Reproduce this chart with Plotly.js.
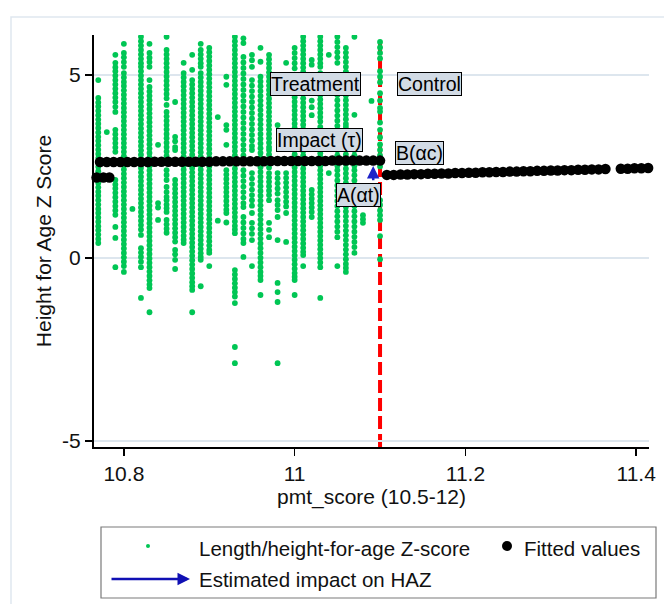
<!DOCTYPE html>
<html>
<head>
<meta charset="utf-8">
<script src="https://cdn.plot.ly/plotly-3.0.1.min.js"></script>
<style>html,body{margin:0;padding:0;background:#fff;}#chart{width:664px;height:604px;}</style>
</head>
<body>
<div id="chart"></div>
<script>
// pmt_score value of each column of observations
const colX = [10.77,10.78,10.79,10.80,10.81,10.82,10.83,10.84,10.85,10.86,10.87,10.88,10.89,10.90,10.91,10.92,10.93,10.94,10.95,10.96,10.97,10.98,10.99,11.00,11.01,11.02,11.03,11.04,11.05,11.06,11.07,11.08,11.09,11.10];
// Length/height-for-age Z-scores observed in each column
const colY = [
 [4.86,4.37,4.25,4.14,4.02,3.9,3.78,3.67,3.55,3.43,3.31,3.2,3.08,2.96,2.84,2.73,2.61,2.49,2.37,2.26,2.14,2.05,1.93,1.81,1.7,1.58,1.46,1.34,1.23,1.11,0.99,0.87,0.76,0.64,0.52,0.41],
 [3.44],
 [5.55,5.33,5.21,5.1,4.98,4.86,4.74,4.62,4.5,4.38,4.26,4.13,3.99,3.5,3.38,3.26,3.14,3.02,2.9,2.13,2.01,1.9,1.78,1.66,1.54,1.42,1.3,1.18,0.85,0.55,-0.25],
 [5.85,5.6,5.48,5.35,5.22,5.05,4.93,4.81,4.7,4.58,4.46,4.34,4.22,4.1,3.98,3.86,3.74,3.62,3.5,3.38,3.26,3.14,3.02,2.9,2.78,2.66,2.54,2.42,2.3,2.18,2.06,1.94,1.82,1.7,1.58,1.46,1.34,1.22,1.1,0.98,0.86,0.74,0.62,0.5,0.38,0.26,0.14,0.02,-0.1,-0.22,-0.38],
 [1.34],
 [6.04,5.92,5.8,5.68,5.56,5.44,5.32,5.22,5.1,4.98,4.86,4.74,4.62,4.5,4.38,4.26,4.14,4.02,3.9,3.78,3.66,3.54,3.42,3.3,3.18,3.06,2.94,2.82,2.7,2.58,2.46,2.34,2.22,2.1,1.98,1.86,1.74,1.62,1.5,1.38,1.26,1.14,1.02,0.9,0.78,0.63,0.27,0.15,0.03,-0.1,-0.25,-1.09],
 [5.85,5.6,5.47,5.35,5.22,4.86,4.67,4.55,4.43,4.31,4.19,4.07,3.95,3.83,3.71,3.59,3.47,3.35,3.23,3.11,2.99,2.87,2.75,2.63,2.51,2.39,2.27,2.15,2.03,1.91,1.79,1.67,1.55,1.43,1.31,1.19,1.07,0.95,0.83,0.71,0.59,0.47,0.35,0.23,0.11,-0.01,-0.13,-0.25,-0.37,-0.49,-0.61,-0.72,-0.82,-1.48],
 [3.09,1.5,1.38,1.04],
 [6.04,5.68,5.56,5.44,5.32,5.2,5.08,4.96,4.84,4.72,4.6,4.48,4.36,4.18,3.99,3.87,3.75,3.63,3.51,3.39,3.27,3.15,3.03,2.91,2.79,2.4,2.27,2.13,1.94,1.8,1.67,1.58,1.46,1.36,1.26,1.04,0.92,0.8,0.69],
 [4.26,3.31,3.19,3.03,2.95,2.13,2.01,1.89,1.77,1.65,1.53,1.41,1.29,1.17,1.05,0.93,0.81,0.69,0.57,0.45,0.22,0.1,-0.05,-0.3],
 [5.33,5.05,4.93,4.81,4.69,4.57,4.45,4.33,4.21,4.09,3.97,3.85,3.73,3.61,3.49,3.37,3.25,3.13,3.01,2.89,2.77,2.65,2.53,2.41,2.29,2.17,2.05,1.93,1.81,1.69,1.57,1.45,1.33,1.21,1.09,0.97,0.85,0.73,0.61,0.5,0.41],
 [5.55,5.14,4.86,4.74,4.62,4.5,4.38,4.26,4.14,4.02,3.9,3.78,3.66,3.54,3.42,3.3,3.18,3.06,2.94,2.82,2.7,2.58,2.46,2.34,2.22,2.1,1.98,1.86,1.74,1.62,1.5,1.38,1.26,1.14,1.02,0.9,0.78,0.66,0.54,0.42,0.3,0.18,0.06,-0.06,-0.18,-0.3,-0.42,-0.54,-0.66,-0.77,-0.87,-1.48],
 [5.85,5.68,5.56,5.44,5.32,5.22,5.05,4.93,4.81,4.69,4.57,4.45,4.33,4.21,4.09,3.97,3.85,3.73,3.61,3.49,3.37,3.25,3.13,3.01,2.89,2.77,2.65,2.53,2.41,2.29,2.17,2.05,1.93,1.81,1.69,1.57,1.45,1.33,1.21,1.09,0.97,0.85,0.73,0.61,0.49,0.37,0.25,0.13,0.03,-0.05,-0.77],
 [5.74,5.62,5.5,5.38,5.26,5.14,5.02,4.9,4.78,4.66,4.54,4.42,4.3,4.18,4.06,3.94,3.82,3.7,3.58,3.46,3.34,3.22,3.1,2.98,2.86,2.74,2.62,2.5,2.38,2.26,2.14,2.02,1.9,1.78,1.66,1.54,1.42,1.3,1.18,1.06,0.94,0.82,0.7,0.58,0.46,0.34,0.22,0.14,-0.22],
 [3.85,1.02],
 [4.95,4.73,3.63,3.5,3.09,2.4,2.28,2.16,2.04,1.92,1.8,1.68,1.56,1.44,1.32,1.23,0.97],
 [6.04,5.92,5.8,5.68,5.56,5.44,5.32,5.2,5.08,4.96,4.84,4.72,4.6,4.48,4.36,4.24,4.12,4.0,3.88,3.76,3.64,3.52,3.4,3.28,3.16,3.04,2.92,2.8,2.68,2.56,2.44,2.32,2.2,2.08,1.96,1.84,1.72,1.6,1.48,1.36,1.24,1.12,1.0,0.88,0.78,0.68,-0.33,-0.45,-0.57,-0.69,-0.81,-0.93,-1.05,-1.23,-2.43,-2.87],
 [6.0,5.87,5.49,5.34,5.19,5.04,4.89,4.74,4.59,4.44,4.29,4.14,3.99,3.84,3.69,3.54,3.39,3.24,3.09,2.95,2.8,2.4,2.25,2.1,1.95,1.8,1.65,1.5,1.39,1.12,0.97,0.82,0.67,0.52,0.41,0.03],
 [5.55,5.4,5.22,4.86,4.71,4.56,4.41,4.26,4.11,3.96,3.81,3.66,3.51,3.36,3.21,3.06,2.95,2.32,2.17,2.02,1.87,1.72,1.58,1.43,1.23,0.96,0.81,0.66,0.49,-0.22],
 [5.74,5.36,4.95,4.82,4.69,4.56,4.43,4.3,4.17,4.04,3.91,3.78,3.65,3.52,3.39,3.26,3.13,3.0,2.87,2.74,2.61,2.48,2.35,2.22,2.09,1.96,1.83,1.7,1.57,1.44,1.31,1.18,1.05,0.92,0.79,0.66,0.53,0.4,0.27,0.14,0.01,-0.12,-0.25,-0.38,-0.49,-0.6,-1.01],
 [5.55,5.43,5.31,5.19,5.07,4.95,4.83,4.71,4.59,4.47,4.35,4.23,4.11,3.99,3.87,3.75,3.63,3.51,3.39,3.27,3.15,3.03,2.95,2.83,2.71,2.59,2.47,2.32,2.2,2.08,1.96,1.84,1.72,1.58,0.96,0.77,0.57],
 [3.63,2.32,2.18,2.04,1.9,1.76,1.58,1.45,1.31,1.12,0.49,-0.68,-0.93,-1.2,-2.87],
 [5.33,3.03,2.32,2.19,2.06,1.93,1.8,1.67,1.54,1.41,1.23,0.44],
 [5.74,5.6,5.46,5.32,5.18,5.0,4.51,4.39,4.27,4.15,4.03,3.91,3.79,3.67,3.55,3.43,3.31,3.19,3.07,2.95,2.83,2.71,2.59,2.47,2.35,2.23,2.11,1.99,1.87,1.75,1.63,1.51,1.39,1.27,1.15,1.03,0.91,0.79,0.67,0.55,0.43,0.31,0.19,0.07,-0.05,-0.17,-0.29,-0.41,-0.51,-0.6,-1.01],
 [6.04,5.92,5.8,5.68,5.56,5.44,5.32,5.2,5.08,4.96,4.84,4.72,4.6,4.48,4.36,4.24,4.12,4.0,3.88,3.76,3.64,3.52,3.4,3.28,3.16,3.04,2.92,2.8,2.68,2.56,2.44,2.32,2.2,2.08,1.96,1.84,1.72,1.6,1.48,1.36,1.24,1.12,1.0,0.88,0.76,0.64,0.52,0.4,0.28,0.17,0.08,-0.22],
 [5.41,5.28,4.3,4.12,3.9,1.86,1.74,1.62,1.5,1.38,1.26,1.12],
 [6.04,5.92,5.8,5.68,5.56,5.44,5.32,5.22,5.05,4.93,4.81,4.69,4.57,4.45,4.33,4.21,4.09,3.97,3.85,3.73,3.58,3.22,3.1,2.98,2.86,2.76,2.64,2.52,2.4,2.28,2.16,2.04,1.92,1.8,1.68,1.56,1.44,1.32,1.2,1.08,0.96,0.84,0.72,0.6,0.48,0.36,0.24,0.12,0.0,-0.12,-0.25,-1.09],
 [5.55,4.6,2.32],
 [6.04,5.9,5.76,5.62,5.48,5.33,4.59,4.45,4.31,4.17,4.03,3.89,3.75,3.61,3.5,3.22,3.08,2.94,2.8,2.66,2.52,2.4,2.26,2.12,1.98,1.84,1.7,1.56,1.42,1.28,1.14,1.0,0.86,0.72,0.57,-0.22],
 [5.74,5.61,5.48,5.35,5.22,5.09,4.96,4.83,4.7,4.57,4.44,4.31,4.18,4.05,3.92,3.79,3.66,3.58,3.22,3.09,2.96,2.83,2.7,2.57,2.44,2.31,2.18,2.05,1.92,1.79,1.66,1.53,1.4,1.27,1.14,1.01,0.88,0.75,0.62,0.49,0.36,0.23,0.1,-0.03,-0.16,-0.27,-0.38],
 [6.04,3.91,3.22,3.08,2.94,2.8,2.66,2.52,2.4,2.26,2.12,1.98,1.84,1.7,1.56,1.42,1.28,1.14,1.0,0.86,0.72,0.58,0.44,0.3,0.14],
 [1.17,1.06,0.96],
 [4.29],
 [5.9,5.75,5.6,5.45,5.1,4.95,4.8,4.5,4.3,4.1,4.0,3.7,3.5,3.3,3.1,2.95,2.8,2.65,2.5,1.58,1.45,1.3,1.17,1.04,0.6,-0.03]
];
// Fitted values, treatment side (below cutoff)
const fitTX = [10.772,10.780,10.788,10.796,10.804,10.812,10.820,10.828,10.836,10.844,10.852,10.860,10.868,10.876,10.884,10.892,10.900,10.908,10.916,10.924,10.932,10.940,10.948,10.956,10.964,10.972,10.980,10.988,10.996,11.004,11.012,11.020,11.028,11.036,11.044,11.052,11.060,11.068,11.076,11.084,11.092,11.100];
const fitTY = [2.62,2.62,2.62,2.62,2.62,2.62,2.62,2.62,2.63,2.63,2.63,2.63,2.63,2.63,2.63,2.63,2.63,2.64,2.64,2.64,2.64,2.64,2.64,2.64,2.64,2.65,2.65,2.65,2.65,2.65,2.65,2.65,2.65,2.65,2.66,2.66,2.66,2.66,2.66,2.66,2.66,2.66];
// Fitted values at the very left edge
const fitEX = [10.768,10.776,10.783];
const fitEY = [2.20,2.20,2.20];
// Fitted values, control side (above cutoff)
const fitCX = [11.108,11.116,11.124,11.132,11.140,11.148,11.156,11.164,11.172,11.180,11.188,11.196,11.204,11.212,11.220,11.228,11.236,11.244,11.252,11.260,11.268,11.276,11.284,11.292,11.300,11.308,11.316,11.324,11.332,11.340,11.348,11.356,11.364,11.382,11.390,11.398,11.406,11.414];
const fitCY = [2.27,2.27,2.28,2.28,2.29,2.29,2.30,2.30,2.31,2.31,2.32,2.32,2.33,2.33,2.34,2.34,2.35,2.35,2.36,2.36,2.37,2.37,2.38,2.38,2.39,2.39,2.40,2.40,2.41,2.41,2.42,2.42,2.43,2.44,2.44,2.45,2.45,2.46];
// Cutoff and impact arrow
const cutoff = 11.1;
const impactX = 11.092;
const impactFrom = 2.08;
const impactTo = 2.51;
// Axis ticks
const xTicks = [10.8, 11, 11.2, 11.4];
const xTickText = ['10.8', '11', '11.2', '11.4'];
const yTicks = [-5, 0, 5];
const yTickText = ['-5', '0', '5'];

const hazX = [], hazY = [];
colX.forEach((x, i) => colY[i].forEach(y => { hazX.push(x); hazY.push(y); }));

const FONT = 'Liberation Sans, Arial, sans-serif';
const traces = [
  {type: 'scatter', mode: 'markers', x: hazX, y: hazY, name: 'Length/height-for-age Z-score',
   marker: {color: 'rgb(0,198,84)', size: 5.8}, showlegend: false, hoverinfo: 'x+y'},
  {type: 'scatter', mode: 'markers', x: fitTX, y: fitTY, name: 'Fitted values',
   marker: {color: '#000', size: 10.5}, showlegend: false, cliponaxis: false},
  {type: 'scatter', mode: 'markers', x: fitEX, y: fitEY, name: 'Fitted values',
   marker: {color: '#000', size: 10.5}, showlegend: false, cliponaxis: false},
  {type: 'scatter', mode: 'markers', x: fitCX, y: fitCY, name: 'Fitted values',
   marker: {color: '#000', size: 10.5}, showlegend: false, cliponaxis: false}
];

function px2paperX(px) { return (px - 94) / 555; }
function px2paperY(py) { return (447 - py) / 412; }

const boxStyle = {bgcolor: '#d2dbe5', bordercolor: '#000', borderwidth: 1, borderpad: 0,
  showarrow: false, font: {family: FONT, size: 19.5, color: '#000'}};

const annotations = [
  Object.assign({x: 11.024, y: 4.74, xref: 'x', yref: 'y', text: 'Treatment'}, boxStyle),
  Object.assign({x: 11.158, y: 4.75, xref: 'x', yref: 'y', text: 'Control'}, boxStyle),
  Object.assign({x: 11.029, y: 3.21, xref: 'x', yref: 'y', text: 'Impact (τ)'}, boxStyle),
  Object.assign({x: 11.146, y: 2.88, xref: 'x', yref: 'y', text: 'B(αc)'}, boxStyle),
  Object.assign({x: 11.075, y: 1.73, xref: 'x', yref: 'y', text: 'A(αt)'}, boxStyle),
  {x: impactX, y: impactTo, ax: impactX, ay: impactFrom, xref: 'x', yref: 'y', axref: 'x', ayref: 'y',
   showarrow: true, arrowhead: 2, arrowsize: 1, arrowwidth: 2.5, arrowcolor: '#1e22c8', text: ''},
  // legend
  {xref: 'paper', yref: 'paper', x: px2paperX(197), y: px2paperY(548), xanchor: 'left', yanchor: 'middle',
   text: 'Length/height-for-age Z-score', showarrow: false, font: {family: FONT, size: 20.5, color: '#111'}},
  {xref: 'paper', yref: 'paper', x: px2paperX(522), y: px2paperY(548), xanchor: 'left', yanchor: 'middle',
   text: 'Fitted values', showarrow: false, font: {family: FONT, size: 20.5, color: '#111'}},
  {xref: 'paper', yref: 'paper', x: px2paperX(197), y: px2paperY(579), xanchor: 'left', yanchor: 'middle',
   text: 'Estimated impact on HAZ', showarrow: false, font: {family: FONT, size: 20.5, color: '#111'}},
  {xref: 'paper', yref: 'paper', x: px2paperX(190), y: px2paperY(579), ax: -80, ay: 0,
   showarrow: true, arrowhead: 2, arrowsize: 1, arrowwidth: 2.5, arrowcolor: '#1010b4', text: ''}
];

const shapes = [
  // outer graph region border
  {type: 'rect', xref: 'paper', yref: 'paper', x0: px2paperX(11), x1: px2paperX(720), y0: px2paperY(720), y1: px2paperY(17),
   line: {color: '#dfe7ef', width: 1.5}, layer: 'below'},
  // cutoff line
  {type: 'line', xref: 'x', yref: 'paper', x0: cutoff, x1: cutoff, y0: 0, y1: 0.985,
   line: {color: '#ff0000', width: 4, dash: '13px,5px'}, layer: 'below'},
  // legend box
  {type: 'rect', xref: 'paper', yref: 'paper', x0: px2paperX(101), x1: px2paperX(656), y0: px2paperY(598), y1: px2paperY(527),
   line: {color: '#7a7a7a', width: 1.2}, fillcolor: 'rgba(0,0,0,0)'},
  // legend markers
  {type: 'circle', xref: 'paper', yref: 'paper', x0: px2paperX(146), x1: px2paperX(150), y0: px2paperY(548), y1: px2paperY(544),
   fillcolor: 'rgb(0,198,84)', line: {width: 0}},
  {type: 'circle', xref: 'paper', yref: 'paper', x0: px2paperX(502), x1: px2paperX(512), y0: px2paperY(551), y1: px2paperY(541),
   fillcolor: '#000', line: {width: 0}}
];

const layout = {
  width: 664, height: 604,
  margin: {l: 94, r: 15, t: 35, b: 157, pad: 0},
  paper_bgcolor: '#fff', plot_bgcolor: '#fff',
  font: {family: FONT, size: 21, color: '#111'},
  showlegend: false,
  xaxis: {
    range: [10.765, 11.415], tickvals: xTicks, ticktext: xTickText,
    showgrid: false, zeroline: false, showline: true, linecolor: '#000', linewidth: 2,
    ticks: 'outside', ticklen: 7, tickwidth: 1.5, tickcolor: '#000', ticklabelstandoff: 0,
    tickfont: {family: FONT, size: 21, color: '#111'},
    title: {text: 'pmt_score (10.5-12)', font: {family: FONT, size: 21, color: '#111'}, standoff: 2}
  },
  yaxis: {
    range: [-5.16, 6.09], tickvals: yTicks, ticktext: yTickText,
    showgrid: true, gridcolor: '#dde6ee', gridwidth: 1.5, zeroline: false,
    showline: true, linecolor: '#000', linewidth: 2,
    ticks: 'outside', ticklen: 7, tickwidth: 1.5, tickcolor: '#000',
    tickfont: {family: FONT, size: 21, color: '#111'},
    title: {text: 'Height for Age Z Score', font: {family: FONT, size: 21, color: '#111'}, standoff: 5}
  },
  annotations: annotations,
  shapes: shapes
};

Plotly.newPlot('chart', traces, layout, {displayModeBar: false, staticPlot: true});
</script>
</body>
</html>
